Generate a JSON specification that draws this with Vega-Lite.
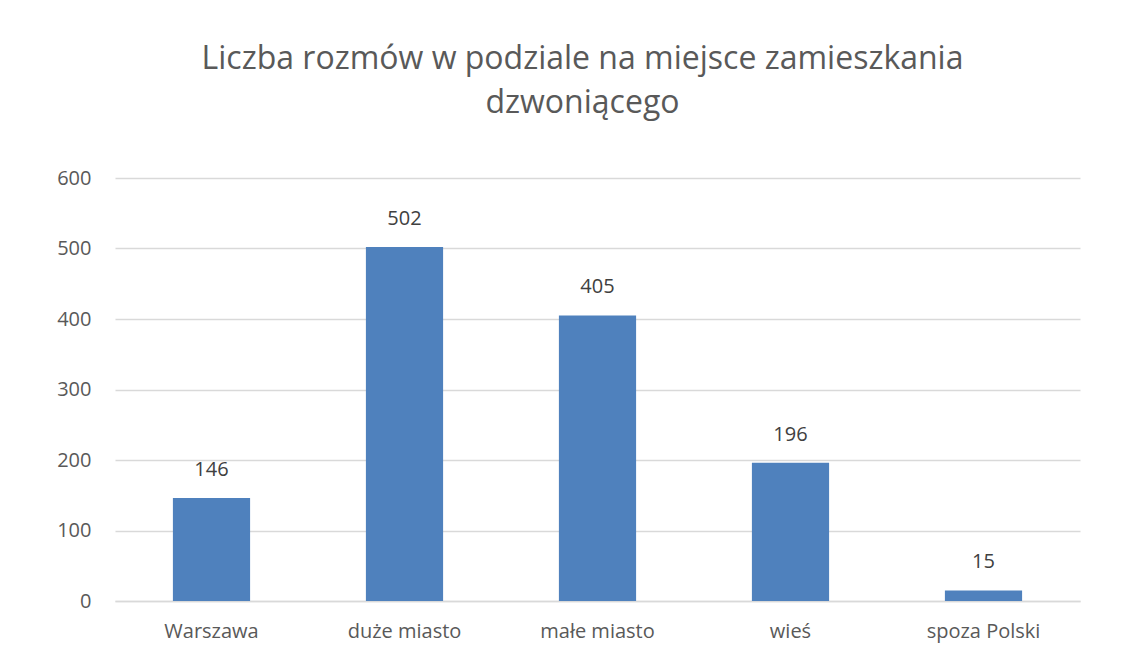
{
  "$schema": "https://vega.github.io/schema/vega-lite/v6.json",
  "autosize": {"type": "none"},
  "width": 965,
  "height": 423,
  "padding": {"left": 115, "top": 178, "right": 61, "bottom": 63},
  "background": "#ffffff",
  "title": {
    "text": ["Liczba rozmów w podziale na miejsce zamieszkania", "dzwoniącego"],
    "anchor": "middle",
    "frame": "group",
    "dx": -15,
    "offset": 48,
    "font": "Open Sans",
    "fontSize": 32,
    "fontWeight": "normal",
    "color": "#595959",
    "lineHeight": 44
  },
  "data": {
    "values": [
      {"miejsce": "Warszawa", "liczba": 146},
      {"miejsce": "duże miasto", "liczba": 502},
      {"miejsce": "małe miasto", "liczba": 405},
      {"miejsce": "wieś", "liczba": 196},
      {"miejsce": "spoza Polski", "liczba": 15}
    ]
  },
  "encoding": {
    "x": {
      "field": "miejsce",
      "type": "nominal",
      "sort": null,
      "scale": {"paddingInner": 0.6, "paddingOuter": 0.3},
      "axis": {
        "title": null,
        "labelAngle": 0,
        "labelFont": "Open Sans",
        "labelFontSize": 20,
        "labelColor": "#595959",
        "labelPadding": 20,
        "ticks": false,
        "domain": true,
        "domainColor": "#d9d9d9",
        "domainWidth": 1.5,
        "grid": false
      }
    },
    "y": {
      "field": "liczba",
      "type": "quantitative",
      "scale": {"domain": [0, 600]},
      "axis": {
        "title": null,
        "values": [0, 100, 200, 300, 400, 500, 600],
        "labelFont": "Open Sans",
        "labelFontSize": 20,
        "labelColor": "#595959",
        "labelPadding": 24,
        "ticks": false,
        "domain": false,
        "grid": true,
        "gridColor": "#d9d9d9",
        "gridWidth": 1.5
      }
    }
  },
  "layer": [
    {"mark": {"type": "bar", "color": "#4F81BD"}},
    {
      "mark": {
        "type": "text",
        "baseline": "alphabetic",
        "dy": -22,
        "font": "Open Sans",
        "fontSize": 20,
        "color": "#404040"
      },
      "encoding": {"text": {"field": "liczba", "type": "quantitative"}}
    }
  ],
  "config": {"view": {"stroke": null}}
}
